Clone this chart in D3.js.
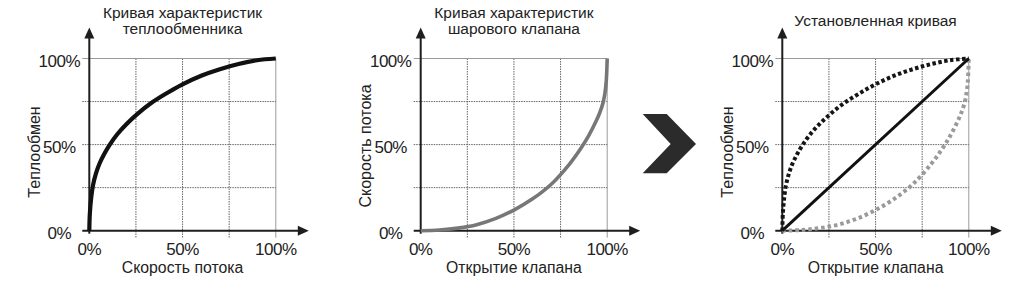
<!DOCTYPE html>
<html>
<head>
<meta charset="utf-8">
<script src="https://cdn.jsdelivr.net/npm/d3@7"></script>
<style>
  html, body { margin: 0; padding: 0; background: #fff; }
  svg { display: block; font-family: "Liberation Sans", Arial, sans-serif; }
  text { fill: #222; }
</style>
</head>
<body>
<div id="chart"></div>
<script>
// 3 small plots: heat exchanger curve, ball valve curve, installed curve

// tick values (percent)
const ticks = [0, 50, 100];
const grid = [25, 50, 75, 100];

// heat exchanger curve
const hexX = [0, 0.3, 1, 2, 3.5, 5.5, 8, 11, 15, 20, 26, 33, 41, 50, 60, 70, 80, 90, 100];
const hexY = [0, 10, 19, 26.5, 33, 39, 44.5, 50, 56, 62, 68, 74, 79.5, 85, 90, 93.8, 96.8, 99, 100];

// ball valve curve
const valveX = [0, 10, 20, 30, 40, 50, 60, 70, 80, 86, 90, 94, 96, 97.7, 98.8, 99.5, 100];
const valveY = [0, 0.4, 1.5, 3.5, 7, 12, 18.5, 27, 39, 48, 55, 63.5, 68.5, 74, 80, 87, 100];

// linear (installed) curve
const linX = [0, 100];
const linY = [0, 100];

const panels = [
  { left: 89.3, title: ["Кривая характеристик", "теплообменника"], titleY: 18,
    xLabel: "Скорость потока", yLabel: "Теплообмен", yLabelY: 152 },
  { left: 420.7, title: ["Кривая характеристик", "шарового клапана"], titleY: 18,
    xLabel: "Открытие клапана", yLabel: "Скорость потока", yLabelY: 146 },
  { left: 782.3, title: ["Установленная кривая"], titleY: 26,
    xLabel: "Открытие клапана", yLabel: "Теплообмен", yLabelY: 152 }
];

const W = 1024, H = 284;
const plotW = 186.5, plotTop = 58.5, plotBottom = 230.7;

const svg = d3.select("#chart").append("svg")
  .attr("width", W)
  .attr("height", H);

const toPts = (xs, ys) => xs.map((x, i) => ({ x, y: ys[i] }));

panels.forEach((p, pi) => {
  const x = d3.scaleLinear().domain([0, 100]).range([p.left, p.left + plotW]);
  const y = d3.scaleLinear().domain([0, 100]).range([plotBottom, plotTop]);
  const g = svg.append("g");

  // grid
  g.selectAll(".vg").data(grid).join("line")
    .attr("x1", d => x(d)).attr("x2", d => x(d))
    .attr("y1", y(100)).attr("y2", y(0) + 7)
    .attr("stroke", d => d === 100 ? "#9a9a9a" : "#666")
    .attr("stroke-width", 1)
    .attr("stroke-dasharray", d => d === 100 ? null : "1.5,1");
  g.selectAll(".hg").data(grid).join("line")
    .attr("y1", d => y(d)).attr("y2", d => y(d))
    .attr("x1", x(0) - 7).attr("x2", x(100))
    .attr("stroke", d => d === 100 ? "#9a9a9a" : "#666")
    .attr("stroke-width", 1)
    .attr("stroke-dasharray", d => d === 100 ? null : "1.5,1");

  // axes with arrows
  const ax = "#1e1e1e";
  g.append("line")
    .attr("x1", x(0)).attr("x2", x(0))
    .attr("y1", y(0) + 3).attr("y2", plotTop - 22)
    .attr("stroke", ax).attr("stroke-width", 2);
  g.append("path")
    .attr("d", `M${x(0)},${plotTop - 31}L${x(0) - 5},${plotTop - 20}L${x(0) + 5},${plotTop - 20}Z`)
    .attr("fill", ax);
  const tipX = x(100) + 33;
  g.append("line")
    .attr("x1", x(0) - 7).attr("x2", tipX - 9)
    .attr("y1", y(0)).attr("y2", y(0))
    .attr("stroke", ax).attr("stroke-width", 2);
  g.append("path")
    .attr("d", `M${tipX},${y(0)}L${tipX - 11},${y(0) - 5}L${tipX - 11},${y(0) + 5}Z`)
    .attr("fill", ax);

  // tick labels
  g.selectAll(".xt").data(ticks).join("text")
    .attr("x", d => x(d)).attr("y", 255)
    .attr("text-anchor", "middle")
    .attr("font-size", 17).attr("letter-spacing", -0.5)
    .text(d => d + "%");
  g.selectAll(".yt").data(ticks).join("text")
    .attr("x", x(0) - 30).attr("y", d => y(d) + 8)
    .attr("text-anchor", "middle")
    .attr("font-size", 17).attr("letter-spacing", -0.5)
    .text(d => d + "%");

  // titles and labels
  p.title.forEach((t, i) => {
    g.append("text")
      .attr("x", x(50)).attr("y", p.titleY + i * 16)
      .attr("text-anchor", "middle")
      .attr("font-size", 15.5)
      .text(t);
  });
  g.append("text")
    .attr("x", x(50)).attr("y", 272.5)
    .attr("text-anchor", "middle")
    .attr("font-size", 15.8)
    .text(p.xLabel);
  g.append("text")
    .attr("transform", `translate(${x(0) - 49.5},${p.yLabelY}) rotate(-90)`)
    .attr("text-anchor", "middle")
    .attr("font-size", 16)
    .text(p.yLabel);

  const line = d3.line()
    .x(d => x(d.x))
    .y(d => y(d.y))
    .curve(d3.curveCatmullRom.alpha(0.5));

  if (pi === 0) {
    g.append("path").datum(toPts(hexX, hexY))
      .attr("d", line).attr("fill", "none")
      .attr("stroke", "#111").attr("stroke-width", 4.2);
  } else if (pi === 1) {
    g.append("path").datum(toPts(valveX, valveY))
      .attr("d", line).attr("fill", "none")
      .attr("stroke", "#777").attr("stroke-width", 3.6);
  } else {
    g.append("path").datum(toPts(valveX, valveY))
      .attr("d", line).attr("fill", "none")
      .attr("stroke", "#9a9a9a").attr("stroke-width", 4)
      .attr("stroke-dasharray", "3.5,3");
    g.append("path").datum(toPts(hexX, hexY))
      .attr("d", line).attr("fill", "none")
      .attr("stroke", "#151515").attr("stroke-width", 4)
      .attr("stroke-dasharray", "3.5,2.5");
    g.append("path").datum(toPts(linX, linY))
      .attr("d", line).attr("fill", "none")
      .attr("stroke", "#111").attr("stroke-width", 3);
  }
});

// chevron between panel 2 and 3
svg.append("path")
  .attr("d", "M642.7,114L666.7,114L696,144L666.7,173.3L642.7,173.3L670.7,144Z")
  .attr("fill", "#2b2b2b");
</script>
</body>
</html>
